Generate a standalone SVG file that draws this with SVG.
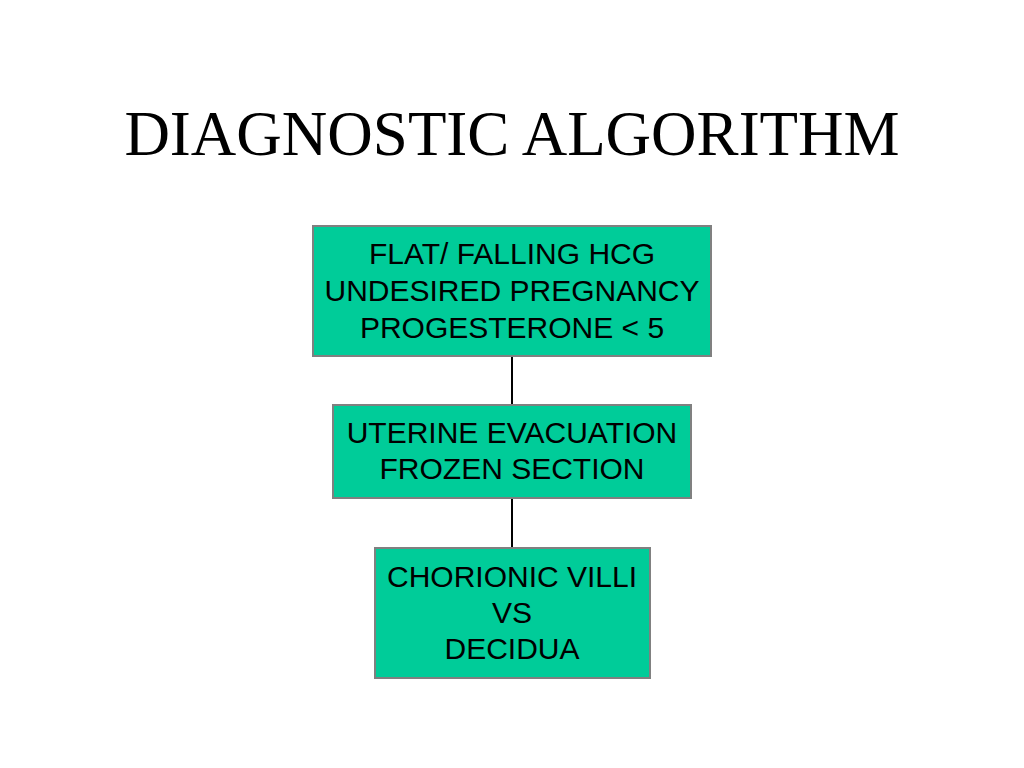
<svg xmlns="http://www.w3.org/2000/svg" width="1024" height="768" viewBox="0 0 1024 768">
<style>
.box{fill:#00CC99;stroke:#808080;stroke-width:2}
.t{font-family:"Liberation Sans",Arial,sans-serif;font-size:30px;fill:#000;text-anchor:middle}
.title{font-family:"Liberation Serif","Times New Roman",serif;font-size:63px;fill:#000;text-anchor:middle}
.c{stroke:#000;stroke-width:2;fill:none}
</style>
<rect width="1024" height="768" fill="#fff"/>
<text class="title" x="512" y="155">DIAGNOSTIC ALGORITHM</text>
<g id="connectors">
<line class="c" x1="512" y1="356" x2="512" y2="405"/>
<line class="c" x1="512" y1="498" x2="512" y2="548"/>
</g>
<g id="node1">
<rect class="box" x="313" y="226" width="398" height="130"/>
<text class="t" x="512" y="264">FLAT/ FALLING HCG</text>
<text class="t" x="512" y="301">UNDESIRED PREGNANCY</text>
<text class="t" x="512" y="338">PROGESTERONE &lt; 5</text>
</g>
<g id="node2">
<rect class="box" x="333" y="405" width="358" height="93"/>
<text class="t" x="512" y="443">UTERINE EVACUATION</text>
<text class="t" x="512" y="479">FROZEN SECTION</text>
</g>
<g id="node3">
<rect class="box" x="375" y="548" width="275" height="130"/>
<text class="t" x="512" y="587">CHORIONIC VILLI</text>
<text class="t" x="512" y="623">VS</text>
<text class="t" x="512" y="659">DECIDUA</text>
</g>
</svg>
